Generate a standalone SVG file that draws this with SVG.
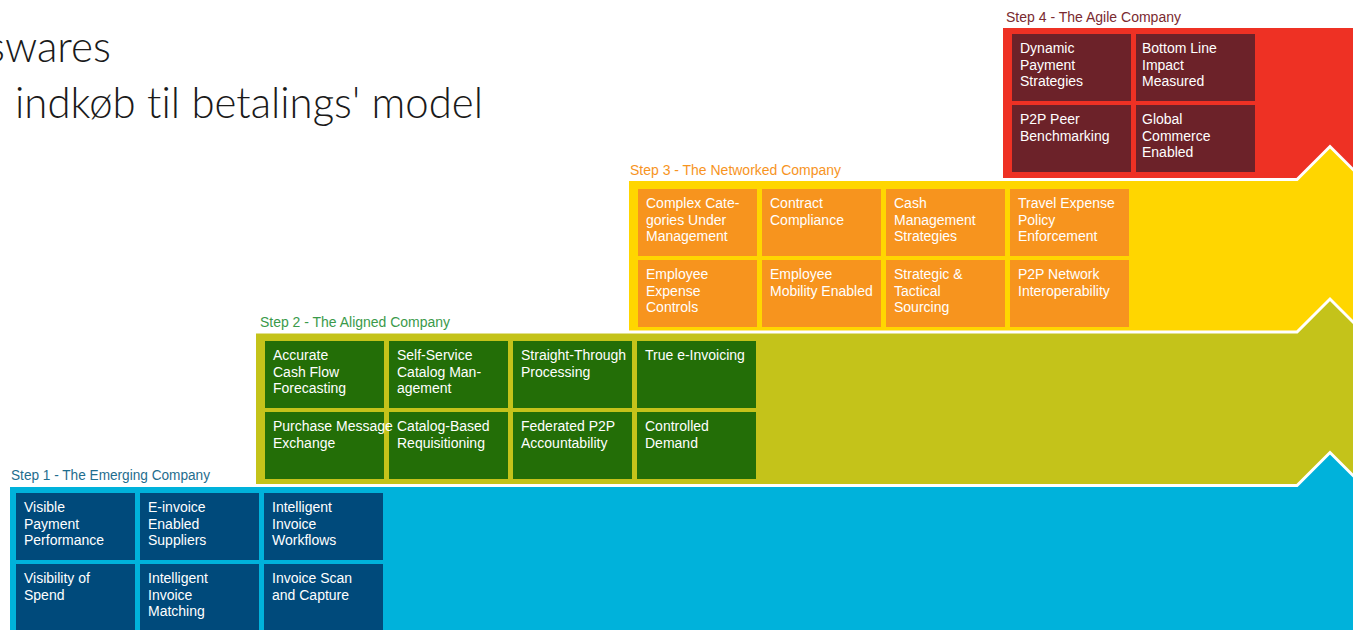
<svg xmlns="http://www.w3.org/2000/svg" width="1353" height="630" viewBox="0 0 1353 630">
<style>
.title{font-family:Lato,"Liberation Sans",Arial,sans-serif;font-weight:300;font-size:44px;fill:#1a1a1a;font-variant-ligatures:none;font-feature-settings:"liga" 0,"clig" 0}
.lbl{font-family:"Liberation Sans",Arial,sans-serif;font-size:14px}
.ct{font-family:"Liberation Sans",Arial,sans-serif;font-size:14px;fill:#ffffff}
.band{stroke:#ffffff;stroke-width:3;stroke-linejoin:miter}
.c1{fill:#004A7B}
.c2{fill:#236E07}
.c3{fill:#F7941E}
.c4{fill:#6C2229}
</style>
<rect width="1353" height="630" fill="#ffffff"/>
<text class="title" x="-13" y="62" textLength="124" lengthAdjust="spacingAndGlyphs">swares</text>
<text class="title" x="15" y="118" textLength="468" lengthAdjust="spacingAndGlyphs">indkøb til betalings' model</text>

<g id="bands">
<rect x="1003" y="28" width="350" height="160" fill="#EE3124"/>
<polygon class="band" fill="#FFD600" points="627.5,179.5 1297,179.5 1330,146.5 1365,181.5 1365,340 627.5,340"/>
<polygon class="band" fill="#C4C31A" points="254.5,332 1297,332 1330,299 1365,334 1365,490 254.5,490"/>
<polygon class="band" fill="#00B2DB" points="8.5,485.5 1297,485.5 1330,452.5 1365,487.5 1365,640 8.5,640"/>
</g>

<g id="labels">
<text class="lbl" x="11" y="480" fill="#1F6D8E" textLength="199" lengthAdjust="spacingAndGlyphs">Step 1 - The Emerging Company</text>
<text class="lbl" x="260" y="327" fill="#3A9A4A" textLength="190" lengthAdjust="spacingAndGlyphs">Step 2 - The Aligned Company</text>
<text class="lbl" x="630" y="175" fill="#F7941E" textLength="211" lengthAdjust="spacingAndGlyphs">Step 3 - The Networked Company</text>
<text class="lbl" x="1006" y="22" fill="#7A2A30" textLength="175" lengthAdjust="spacingAndGlyphs">Step 4 - The Agile Company</text>
</g>

<g id="step1">
<g id="s1-visible-payment"><rect class="c1" x="16" y="493" width="119" height="67"/><text class="ct" x="24" y="512"><tspan x="24">Visible</tspan><tspan x="24" dy="16.5">Payment</tspan><tspan x="24" dy="16.5">Performance</tspan></text></g>
<g id="s1-einvoice"><rect class="c1" x="140" y="493" width="119" height="67"/><text class="ct" x="148" y="512"><tspan x="148">E-invoice</tspan><tspan x="148" dy="16.5">Enabled</tspan><tspan x="148" dy="16.5">Suppliers</tspan></text></g>
<g id="s1-workflows"><rect class="c1" x="264" y="493" width="119" height="67"/><text class="ct" x="272" y="512"><tspan x="272">Intelligent</tspan><tspan x="272" dy="16.5">Invoice</tspan><tspan x="272" dy="16.5">Workflows</tspan></text></g>
<g id="s1-visibility-spend"><rect class="c1" x="16" y="564" width="119" height="67"/><text class="ct" x="24" y="583"><tspan x="24">Visibility of</tspan><tspan x="24" dy="16.5">Spend</tspan></text></g>
<g id="s1-matching"><rect class="c1" x="140" y="564" width="119" height="67"/><text class="ct" x="148" y="583"><tspan x="148">Intelligent</tspan><tspan x="148" dy="16.5">Invoice</tspan><tspan x="148" dy="16.5">Matching</tspan></text></g>
<g id="s1-scan"><rect class="c1" x="264" y="564" width="119" height="67"/><text class="ct" x="272" y="583"><tspan x="272">Invoice Scan</tspan><tspan x="272" dy="16.5">and Capture</tspan></text></g>
</g>

<g id="step2">
<g id="s2-cashflow"><rect class="c2" x="265" y="341" width="119" height="67"/><text class="ct" x="273" y="360"><tspan x="273">Accurate</tspan><tspan x="273" dy="16.5">Cash Flow</tspan><tspan x="273" dy="16.5">Forecasting</tspan></text></g>
<g id="s2-catalog-mgmt"><rect class="c2" x="389" y="341" width="119" height="67"/><text class="ct" x="397" y="360"><tspan x="397">Self-Service</tspan><tspan x="397" dy="16.5">Catalog Man-</tspan><tspan x="397" dy="16.5">agement</tspan></text></g>
<g id="s2-stp"><rect class="c2" x="513" y="341" width="119" height="67"/><text class="ct" x="521" y="360"><tspan x="521">Straight-Through</tspan><tspan x="521" dy="16.5">Processing</tspan></text></g>
<g id="s2-einvoicing"><rect class="c2" x="637" y="341" width="119" height="67"/><text class="ct" x="645" y="360">True e-Invoicing</text></g>
<g id="s2-catalog-req"><rect class="c2" x="389" y="412" width="119" height="67"/><text class="ct" x="397" y="431"><tspan x="397">Catalog-Based</tspan><tspan x="397" dy="16.5">Requisitioning</tspan></text></g>
<g id="s2-federated"><rect class="c2" x="513" y="412" width="119" height="67"/><text class="ct" x="521" y="431"><tspan x="521">Federated P2P</tspan><tspan x="521" dy="16.5">Accountability</tspan></text></g>
<g id="s2-demand"><rect class="c2" x="637" y="412" width="119" height="67"/><text class="ct" x="645" y="431"><tspan x="645">Controlled</tspan><tspan x="645" dy="16.5">Demand</tspan></text></g>
<g id="s2-purchase"><rect class="c2" x="265" y="412" width="119" height="67"/><text class="ct" x="273" y="431"><tspan x="273">Purchase Message</tspan><tspan x="273" dy="16.5">Exchange</tspan></text></g>
</g>

<g id="step3">
<g id="s3-complex"><rect class="c3" x="638" y="189" width="119" height="67"/><text class="ct" x="646" y="208"><tspan x="646">Complex Cate-</tspan><tspan x="646" dy="16.5">gories Under</tspan><tspan x="646" dy="16.5">Management</tspan></text></g>
<g id="s3-contract"><rect class="c3" x="762" y="189" width="119" height="67"/><text class="ct" x="770" y="208"><tspan x="770">Contract</tspan><tspan x="770" dy="16.5">Compliance</tspan></text></g>
<g id="s3-cash"><rect class="c3" x="886" y="189" width="119" height="67"/><text class="ct" x="894" y="208"><tspan x="894">Cash</tspan><tspan x="894" dy="16.5">Management</tspan><tspan x="894" dy="16.5">Strategies</tspan></text></g>
<g id="s3-travel"><rect class="c3" x="1010" y="189" width="119" height="67"/><text class="ct" x="1018" y="208"><tspan x="1018">Travel Expense</tspan><tspan x="1018" dy="16.5">Policy</tspan><tspan x="1018" dy="16.5">Enforcement</tspan></text></g>
<g id="s3-expense"><rect class="c3" x="638" y="260" width="119" height="67"/><text class="ct" x="646" y="279"><tspan x="646">Employee</tspan><tspan x="646" dy="16.5">Expense</tspan><tspan x="646" dy="16.5">Controls</tspan></text></g>
<g id="s3-mobility"><rect class="c3" x="762" y="260" width="119" height="67"/><text class="ct" x="770" y="279"><tspan x="770">Employee</tspan><tspan x="770" dy="16.5">Mobility Enabled</tspan></text></g>
<g id="s3-sourcing"><rect class="c3" x="886" y="260" width="119" height="67"/><text class="ct" x="894" y="279"><tspan x="894">Strategic &amp;</tspan><tspan x="894" dy="16.5">Tactical</tspan><tspan x="894" dy="16.5">Sourcing</tspan></text></g>
<g id="s3-network"><rect class="c3" x="1010" y="260" width="119" height="67"/><text class="ct" x="1018" y="279"><tspan x="1018">P2P Network</tspan><tspan x="1018" dy="16.5">Interoperability</tspan></text></g>
</g>

<g id="step4">
<g id="s4-dynamic"><rect class="c4" x="1012" y="34" width="119" height="67"/><text class="ct" x="1020" y="53"><tspan x="1020">Dynamic</tspan><tspan x="1020" dy="16.5">Payment</tspan><tspan x="1020" dy="16.5">Strategies</tspan></text></g>
<g id="s4-bottomline"><rect class="c4" x="1136" y="34" width="119" height="67"/><text class="ct" x="1142" y="53"><tspan x="1142">Bottom Line</tspan><tspan x="1142" dy="16.5">Impact</tspan><tspan x="1142" dy="16.5">Measured</tspan></text></g>
<g id="s4-peer"><rect class="c4" x="1012" y="105" width="119" height="67"/><text class="ct" x="1020" y="124"><tspan x="1020">P2P Peer</tspan><tspan x="1020" dy="16.5">Benchmarking</tspan></text></g>
<g id="s4-global"><rect class="c4" x="1136" y="105" width="119" height="67"/><text class="ct" x="1142" y="124"><tspan x="1142">Global</tspan><tspan x="1142" dy="16.5">Commerce</tspan><tspan x="1142" dy="16.5">Enabled</tspan></text></g>
</g>
</svg>
